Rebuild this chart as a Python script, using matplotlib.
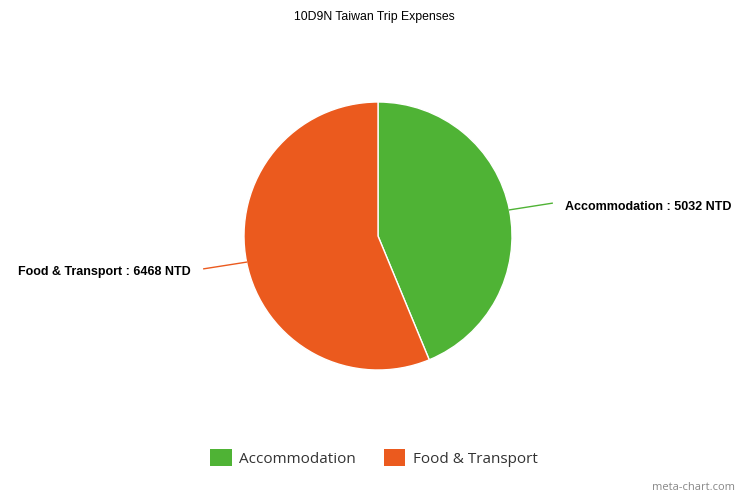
import matplotlib.pyplot as plt
from matplotlib.patches import Patch
import numpy as np

labels = ['Accommodation', 'Food & Transport']
values = [5032, 6468]
colors = ['#4fb335', '#eb5a1e']
title = '10D9N Taiwan Trip Expenses'

W, H = 748, 498
fig = plt.figure(figsize=(W / 100, H / 100), dpi=100)
fig.patch.set_facecolor('white')

# pie axes placed in pixel terms: centre (378, 236), radius 134
cx, cy, r = 378, 236, 134
ax = fig.add_axes([(cx - r) / W, (H - cy - r) / H, 2 * r / W, 2 * r / H])
wedges, _ = ax.pie(values, colors=colors, startangle=90, counterclock=False,
                   radius=1, wedgeprops=dict(edgecolor='white', linewidth=1))
ax.set_xlim(-1, 1)
ax.set_ylim(-1, 1)
ax.set_aspect('equal')
ax.axis('off')

total = sum(values)
start = 90
for w, lab, val, col in zip(wedges, labels, values, colors):
    span = 360 * val / total
    mid = np.deg2rad(start - span / 2)
    start -= span
    x0, y0 = np.cos(mid), np.sin(mid)
    side = 1 if x0 > 0 else -1
    # connector runs out almost horizontally
    x1, y1 = 1.30 * side, y0 + 0.05 * np.sign(y0)
    ax.plot([x0, x1], [y0, y1], color=col, lw=1, clip_on=False)
    ax.text(x1 + 0.095 * side, y1 - 0.025, f'{lab} : {val} NTD',
            ha='left' if side > 0 else 'right', va='center',
            fontsize=9, fontweight='bold', family='Liberation Sans',
            clip_on=False)

fig.text(0.5, 1 - 17 / H, title, ha='center', va='center',
         fontsize=8.8, family='Liberation Sans')

handles = [Patch(facecolor=c, edgecolor='none') for c in colors]
leg = fig.legend(handles, labels, loc='center', bbox_to_anchor=(0.5, 1 - 458 / H),
                 ncol=2, frameon=False, handlelength=1.4, handleheight=1.3,
                 columnspacing=1.8, handletextpad=0.5,
                 prop=dict(family='Open Sans', size=11))
for t in leg.get_texts():
    t.set_color('#333333')

fig.text(1 - 13 / W, 1 - 487 / H, 'meta-chart.com', ha='right', va='center',
         fontsize=8, family='Open Sans', color='#888888')

fig.savefig('out.png', dpi=100)
